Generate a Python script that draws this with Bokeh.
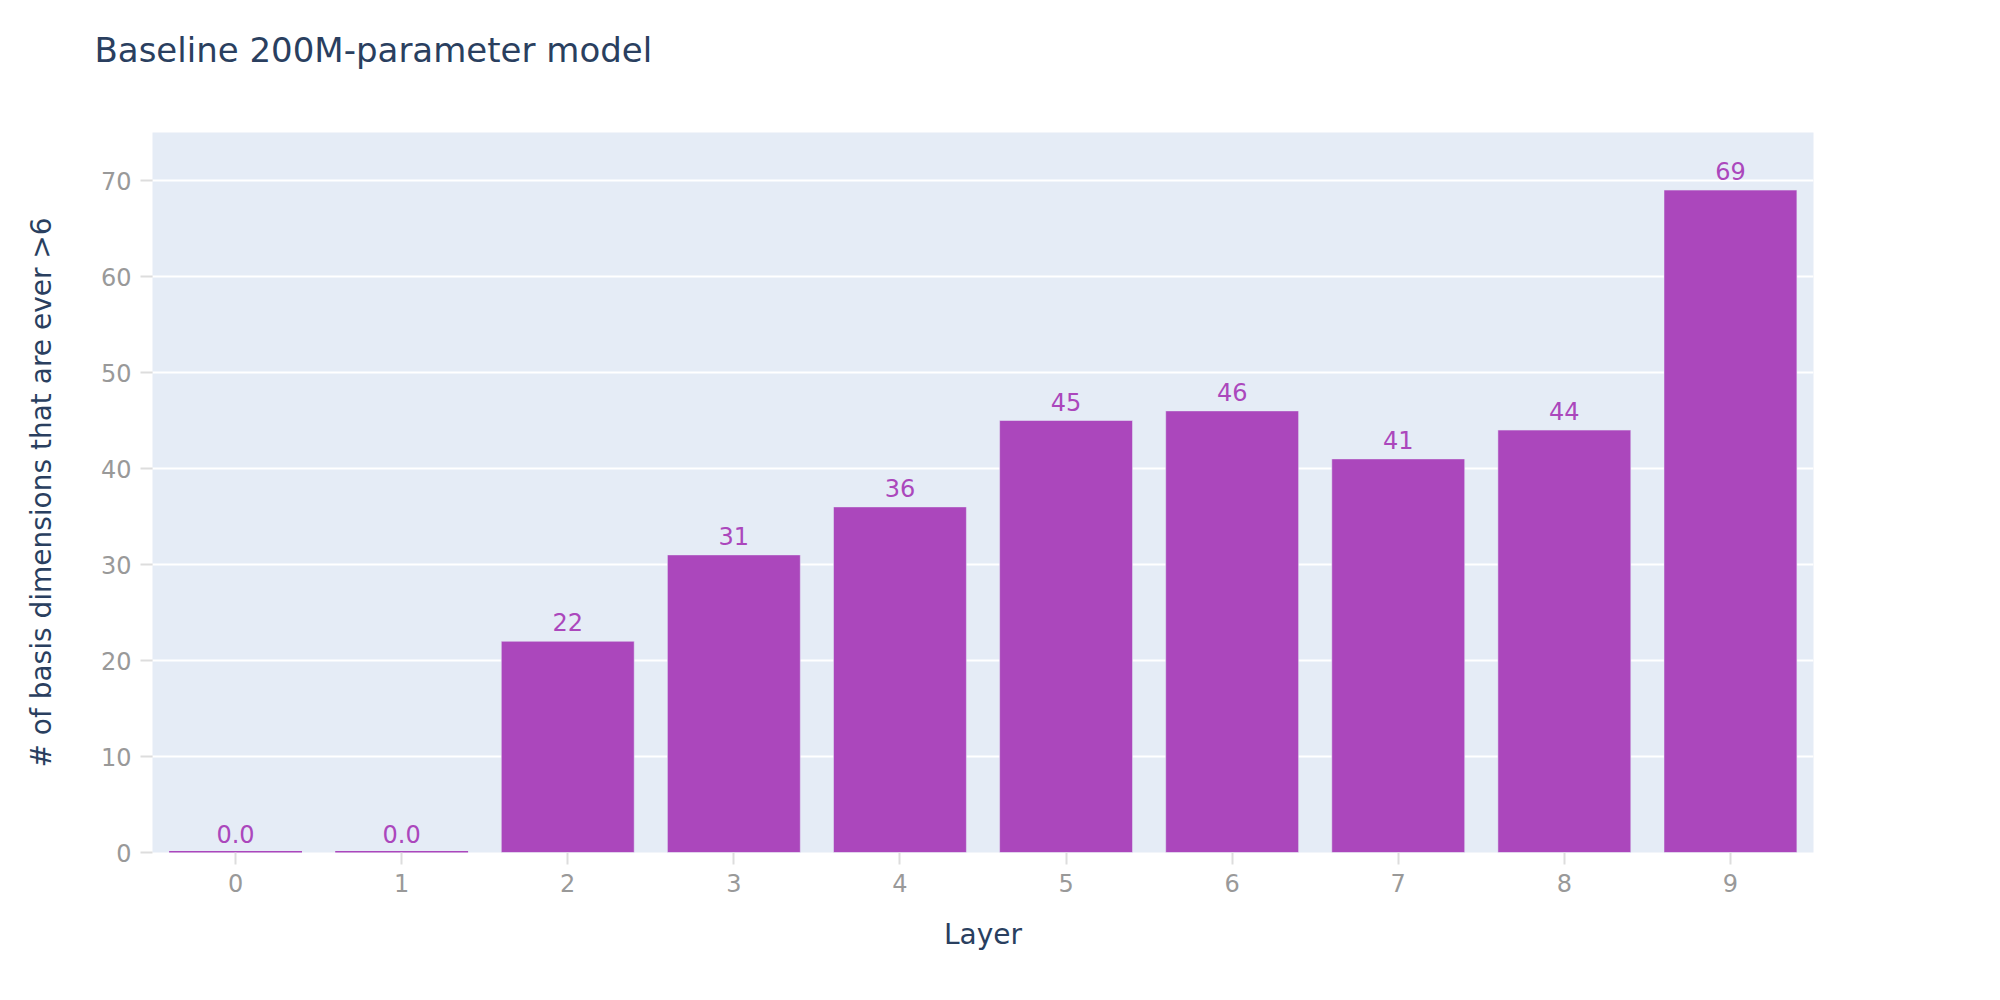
from bokeh.plotting import figure
from bokeh.models import ColumnDataSource, FixedTicker, LabelSet, Title, Range1d
from bokeh.core.properties import value
from bokeh.embed import file_html
from bokeh.resources import INLINE

# ---- data ----
layers = [0, 1, 2, 3, 4, 5, 6, 7, 8, 9]
counts = [0, 0, 22, 31, 36, 45, 46, 41, 44, 69]
bar_text = ["0.0", "0.0", "22", "31", "36", "45", "46", "41", "44", "69"]
y_ticks = [0, 10, 20, 30, 40, 50, 60, 70]

TITLE = "Baseline 200M-parameter model"
X_TITLE = "Layer"
Y_TITLE = "# of basis dimensions that are ever >6"

BAR = "#AB47BC"
INK = "#2a3f5f"
TICKLAB = "#999999"
FONT = "DejaVu Sans"

line_colors = [BAR if v == 0 else "#E5ECF6" for v in counts]
line_widths = [3 if v == 0 else 0.5 for v in counts]

src = ColumnDataSource(dict(x=layers, top=counts, label=bar_text,
                            lc=line_colors, lw=line_widths))

p = figure(
    output_backend="svg", toolbar_location=None,
    frame_width=1661, frame_height=720,
    min_border_left=152, min_border_right=160,
    min_border_top=132, min_border_bottom=120,
    x_range=Range1d(-0.5, 9.5), y_range=Range1d(0, 75),
    background_fill_color="#E5ECF6", border_fill_color="white",
)
p.outline_line_color = None

p.vbar(x="x", top="top", width=0.8, bottom=0, source=src,
       fill_color=BAR, line_color="lc", line_width="lw")

labels = LabelSet(x="x", y="top", text="label", source=src,
                  text_align="center", text_baseline="alphabetic",
                  y_offset=10, text_color=BAR, text_font_size="24px",
                  text_font=value(FONT))
p.add_layout(labels)

# spacer between the title and the plot frame
spacer = Title(text=" ", text_font_size="1px", standoff=60)
p.add_layout(spacer, "above")

# title
p.title.text = TITLE
p.title.align = "left"
p.title.offset = -58
p.title.standoff = 0
p.title.text_font = FONT
p.title.text_font_size = "34px"
p.title.text_font_style = "normal"
p.title.text_color = INK

# grids
p.xgrid.grid_line_color = None
p.ygrid.grid_line_color = "white"
p.ygrid.grid_line_width = 2
p.ygrid.ticker = FixedTicker(ticks=y_ticks)

# axes
for ax in (p.xaxis[0], p.yaxis[0]):
    ax.axis_line_color = None
    ax.major_tick_line_color = "#dddddd"
    ax.major_tick_line_width = 2
    ax.major_tick_out = 12
    ax.major_tick_in = 0
    ax.minor_tick_line_color = None
    ax.major_label_text_font = FONT
    ax.major_label_text_font_size = "24px"
    ax.major_label_text_color = TICKLAB
    ax.axis_label_text_font = FONT
    ax.axis_label_text_font_size = "28px"
    ax.axis_label_text_font_style = "normal"
    ax.axis_label_text_color = INK

p.xaxis.ticker = FixedTicker(ticks=layers)
p.yaxis.ticker = FixedTicker(ticks=y_ticks)
p.xaxis.axis_label = X_TITLE
p.yaxis.axis_label = Y_TITLE
p.xaxis.major_label_standoff = 9
p.yaxis.major_label_standoff = 9
p.xaxis.axis_label_standoff = 23
p.yaxis.axis_label_standoff = 40

open("out.html", "w").write(file_html(p, INLINE))
